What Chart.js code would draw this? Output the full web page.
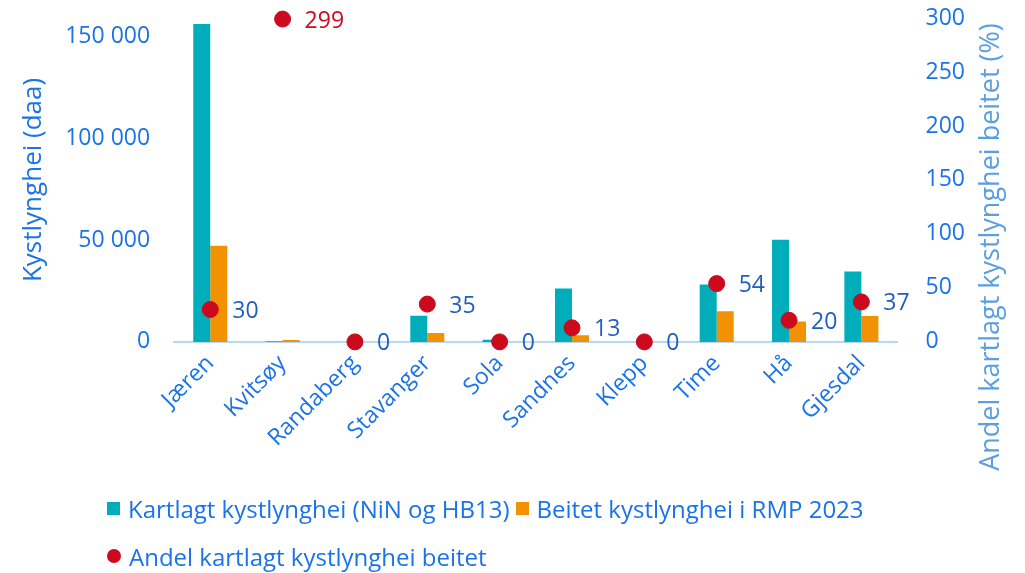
<!DOCTYPE html>
<html>
<head>
<meta charset="utf-8">
<script src="https://cdn.jsdelivr.net/npm/chart.js@4/dist/chart.umd.min.js"></script>
<style>
  html, body { margin: 0; padding: 0; background: #fff; }
  #wrap { position: relative; width: 1025px; height: 573px; }
  #legend { position: absolute; left: 107px; top: 484px; font-family: "Open Sans", sans-serif; font-size: 24px; color: #1a73e8; }
  #legend .row { display: flex; align-items: center; height: 48px; }
  #legend .item { display: flex; align-items: center; margin-right: 6px; }
  #legend .box { width: 13px; height: 13px; margin-right: 8px; }
  #legend .dot { width: 14px; height: 14px; border-radius: 50%; margin-right: 8px; }
</style>
</head>
<body>
<div id="wrap">
  <canvas id="chart" width="1025" height="573"></canvas>
  <div id="legend"></div>
</div>
<script>
const municipalities = ["Jæren", "Kvitsøy", "Randaberg", "Stavanger", "Sola", "Sandnes", "Klepp", "Time", "Hå", "Gjesdal"];
const mappedHeath = [156000, 300, 0, 12800, 1000, 26200, 0, 28200, 50200, 34600];
const grazedHeath = [47200, 900, 0, 4400, 0, 3300, 0, 15100, 10000, 12700];
const shareGrazed = [30, 299, 0, 35, 0, 13, 0, 54, 20, 37];
const leftTicks = [0, 50000, 100000, 150000];

const blue = "#1a73e8";
const font = { family: "Open Sans", size: 23 };

function fmt(v) {
  return String(v).replace(/\B(?=(\d{3})+(?!\d))/g, " ");
}

// tick padding would otherwise also push the plot area down
function trimTop(axis) {
  axis.paddingTop = 18;
}

// value labels to the right of the red dots
const dotLabels = {
  id: "dotLabels",
  afterDatasetsDraw(chart) {
    const meta = chart.getDatasetMeta(1);
    const c = chart.ctx;
    c.save();
    c.font = "23px 'Open Sans'";
    c.textBaseline = "middle";
    c.textAlign = "left";
    meta.data.forEach((pt, i) => {
      const v = shareGrazed[i];
      c.fillStyle = v > 100 ? "#cc0a1e" : "#1f5fbf";
      c.fillText(v, pt.x + 22, pt.y + 2);
    });
    c.restore();
  }
};

// right axis title is centred on the whole canvas height, not the plot area
const rightTitle = {
  id: "rightTitle",
  afterDraw(chart) {
    const c = chart.ctx;
    c.save();
    c.translate(991, 247);
    c.rotate(-Math.PI / 2);
    c.font = "27px 'Open Sans'";
    c.fillStyle = "#5a9fe0";
    c.textAlign = "center";
    c.textBaseline = "middle";
    c.fillText("Andel kartlagt kystlynghei beitet (%)", 0, 0);
    c.restore();
  }
};

const chart = new Chart(document.getElementById("chart"), {
  data: {
    labels: municipalities,
    datasets: [
      {
        type: "bar",
        label: "Kartlagt kystlynghei (NiN og HB13)",
        data: mappedHeath,
        backgroundColor: "#00adba",
        yAxisID: "y",
        categoryPercentage: 0.47,
        barPercentage: 1,
        order: 2
      },
      {
        type: "line",
        label: "Andel kartlagt kystlynghei beitet",
        data: shareGrazed,
        yAxisID: "y1",
        showLine: false,
        clip: false,
        backgroundColor: "#cc0a1e",
        borderColor: "#cc0a1e",
        pointRadius: 8,
        pointHoverRadius: 8,
        order: 0
      },
      {
        type: "bar",
        label: "Beitet kystlynghei i RMP 2023",
        data: grazedHeath,
        backgroundColor: "#f39200",
        yAxisID: "y",
        categoryPercentage: 0.47,
        barPercentage: 1,
        order: 2
      }
    ]
  },
  options: {
    responsive: false,
    animation: false,
    layout: { padding: { top: 0, left: 18, right: 40, bottom: 113 } },
    plugins: {
      legend: { display: false },
      tooltip: { enabled: false }
    },
    scales: {
      x: {
        type: "category",
        grid: { display: false, drawTicks: false },
        border: { color: "#b8d8f8", width: 2 },
        ticks: { color: blue, font: font, maxRotation: 45, minRotation: 45, padding: 8 }
      },
      y: {
        position: "left",
        min: 0,
        max: 159000,
        afterBuildTicks(axis) {
          axis.ticks = leftTicks.map(v => ({ value: v }));
        },
        afterFit: trimTop,
        grid: { display: false },
        border: { display: false },
        ticks: { color: blue, font: font, padding: 16, callback: v => fmt(v) },
        title: { display: true, text: "Kystlynghei (daa)", color: blue, font: { family: "Open Sans", size: 26 }, padding: { top: 0, bottom: 0 } }
      },
      y1: {
        position: "right",
        min: 0,
        max: 300,
        afterFit: trimTop,
        grid: { display: false },
        border: { display: false },
        ticks: { color: blue, font: font, stepSize: 50, padding: 20 }
      }
    }
  },
  plugins: [dotLabels, rightTitle]
});

// html legend, two rows like the original
const legend = document.getElementById("legend");
const items = [
  { text: chart.data.datasets[0].label, color: "#00adba", cls: "box" },
  { text: chart.data.datasets[2].label, color: "#f39200", cls: "box" },
  { text: chart.data.datasets[1].label, color: "#cc0a1e", cls: "dot" }
];
const rows = [[items[0], items[1]], [items[2]]];
rows.forEach(r => {
  const row = document.createElement("div");
  row.className = "row";
  r.forEach(it => {
    const el = document.createElement("div");
    el.className = "item";
    el.innerHTML = `<span class="${it.cls}" style="background:${it.color}"></span>${it.text}`;
    row.append(el);
  });
  legend.append(row);
});
</script>
</body>
</html>
